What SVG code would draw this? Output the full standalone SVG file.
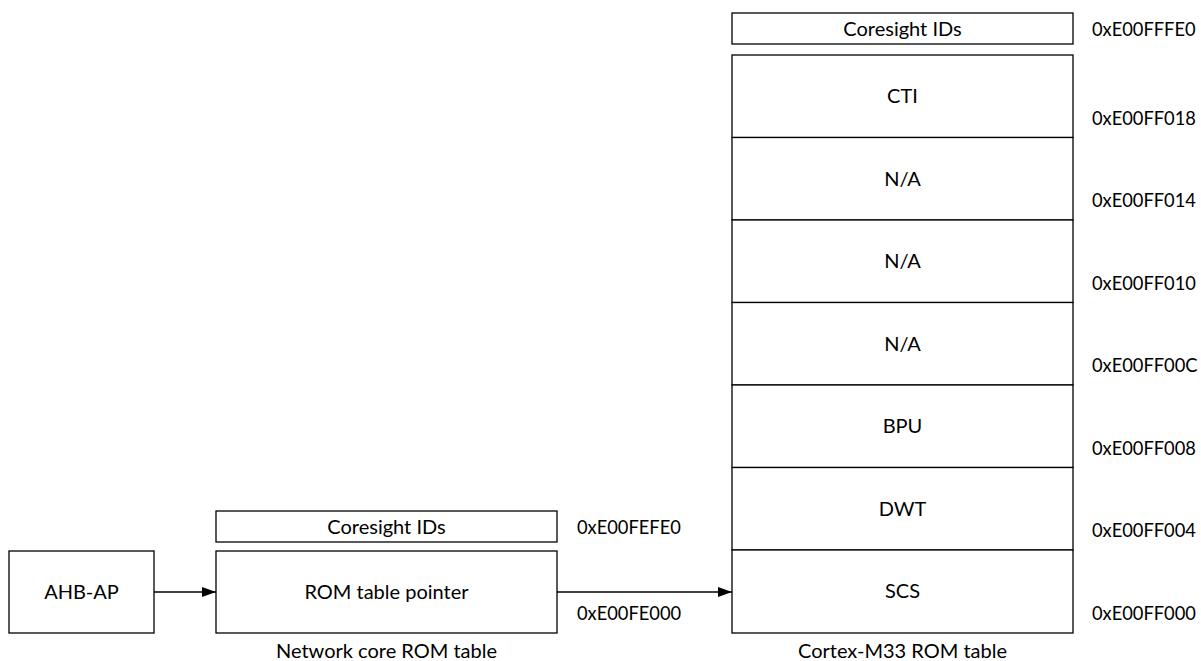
<svg xmlns="http://www.w3.org/2000/svg" width="1201" height="661" viewBox="0 0 1201 661">
<defs>
<style>
.box{fill:#fff;stroke:#000;stroke-width:1.3}
text{font-family:Lato,"Open Sans","Liberation Sans",sans-serif;font-size:20px;fill:#000}
.c{text-anchor:middle}
.a{font-size:18.3px}
.conn line{stroke:#000;stroke-width:1.3}
</style>
<marker id="ah" viewBox="0 0 10 10" refX="10" refY="5" markerWidth="14" markerHeight="10" markerUnits="userSpaceOnUse" orient="auto" preserveAspectRatio="none">
<path d="M0,0 L10,5 L0,10 z" fill="#000"/>
</marker>
</defs>
<rect width="1201" height="661" fill="#fff"/>
<g id="ahb-ap"><rect class="box" x="9" y="551" width="145" height="82"/><text class="c" x="81.5" y="599">AHB-AP</text></g>
<g id="net-coresight"><rect class="box" x="216" y="511" width="341" height="31"/><text class="c" x="386.5" y="533.5">Coresight IDs</text></g>
<g id="net-rom-pointer"><rect class="box" x="216" y="551" width="341" height="82"/><text class="c" x="386.5" y="599">ROM table pointer</text></g>
<g id="net-labels">
<text class="a" x="577" y="533.5">0xE00FEFE0</text>
<text class="a" x="577" y="619.5">0xE00FE000</text>
<text class="c" x="386.5" y="658">Network core ROM table</text>
</g>
<g id="m33-coresight"><rect class="box" x="732" y="13" width="341" height="31"/><text class="c" x="902.5" y="35.5">Coresight IDs</text><text class="a" x="1092" y="35.5">0xE00FFFE0</text></g>
<g id="m33-cti"><rect class="box" x="732" y="55" width="341" height="82.5"/><text class="c" x="902.5" y="103">CTI</text><text class="a" x="1092" y="124.5">0xE00FF018</text></g>
<g id="m33-na1"><rect class="box" x="732" y="137.5" width="341" height="82.5"/><text class="c" x="902.5" y="185.5">N/A</text><text class="a" x="1092" y="207">0xE00FF014</text></g>
<g id="m33-na2"><rect class="box" x="732" y="220" width="341" height="82.5"/><text class="c" x="902.5" y="268">N/A</text><text class="a" x="1092" y="289.5">0xE00FF010</text></g>
<g id="m33-na3"><rect class="box" x="732" y="302.5" width="341" height="82.5"/><text class="c" x="902.5" y="350.5">N/A</text><text class="a" x="1092" y="372">0xE00FF00C</text></g>
<g id="m33-bpu"><rect class="box" x="732" y="385" width="341" height="82.5"/><text class="c" x="902.5" y="433">BPU</text><text class="a" x="1092" y="454.5">0xE00FF008</text></g>
<g id="m33-dwt"><rect class="box" x="732" y="467.5" width="341" height="82.5"/><text class="c" x="902.5" y="515.5">DWT</text><text class="a" x="1092" y="537">0xE00FF004</text></g>
<g id="m33-scs"><rect class="box" x="732" y="550" width="341" height="83"/><text class="c" x="902.5" y="598">SCS</text><text class="a" x="1092" y="619.5">0xE00FF000</text></g>
<g id="m33-title"><text class="c" x="902.5" y="658">Cortex-M33 ROM table</text></g>
<g class="conn" id="connectors">
<line x1="154" y1="592" x2="216" y2="592" marker-end="url(#ah)"/>
<line x1="557" y1="592" x2="732" y2="592" marker-end="url(#ah)"/>
</g>
</svg>
